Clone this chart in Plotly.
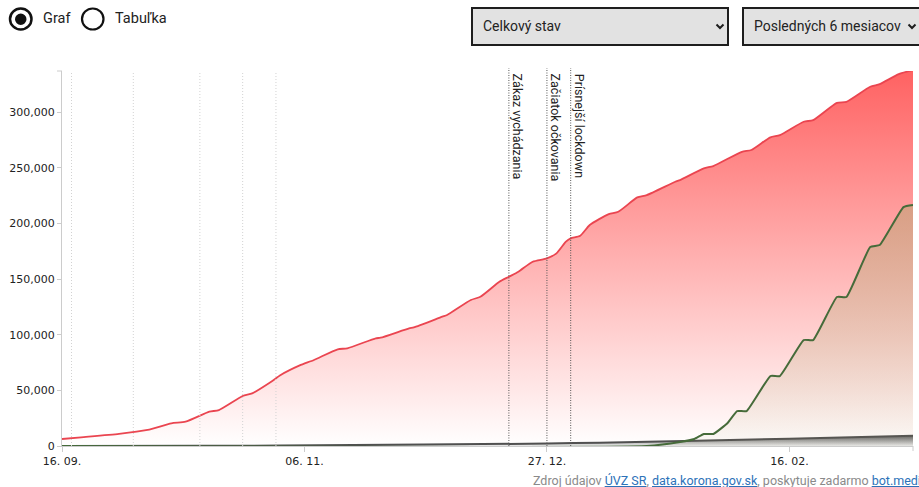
import plotly.graph_objects as go

# ---------------- data ----------------
pos_dates = ["2020-09-16", "2020-09-20", "2020-09-28", "2020-10-04", "2020-10-09", "2020-10-12",
             "2020-10-17", "2020-10-19", "2020-10-24", "2020-10-26", "2020-10-30", "2020-11-01",
             "2020-11-05", "2020-11-08", "2020-11-13", "2020-11-15", "2020-11-21", "2020-11-22",
             "2020-11-28", "2020-11-29", "2020-12-05", "2020-12-06", "2020-12-11", "2020-12-13",
             "2020-12-17", "2020-12-19", "2020-12-21", "2020-12-24", "2020-12-27", "2020-12-29",
             "2020-12-31", "2021-01-01", "2021-01-03", "2021-01-05", "2021-01-09", "2021-01-11",
             "2021-01-15", "2021-01-17", "2021-01-23", "2021-01-24", "2021-01-29", "2021-01-31",
             "2021-02-06", "2021-02-08", "2021-02-12", "2021-02-14", "2021-02-19", "2021-02-21",
             "2021-02-26", "2021-02-28", "2021-03-05", "2021-03-07", "2021-03-11", "2021-03-14"]
pos_values = [6300, 7800, 10800, 14400, 20400, 21800,
              30800, 32300, 44900, 47300, 57800, 63800,
              72400, 77300, 86900, 87800, 96800, 97300,
              105700, 106600, 116200, 117700, 131200, 134100,
              147600, 152100, 156600, 165600, 168600, 173100,
              183600, 186600, 189000, 198600, 208400, 210500,
              223400, 225500, 237500, 239000, 249500, 251600,
              264400, 266000, 277400, 279400, 291400, 292900,
              308400, 309300, 322800, 325200, 334200, 337800]

green_dates = ["2020-09-16", "2021-01-17", "2021-01-24", "2021-01-27", "2021-01-29", "2021-01-31",
               "2021-02-03", "2021-02-05", "2021-02-07", "2021-02-12", "2021-02-14", "2021-02-19",
               "2021-02-21", "2021-02-26", "2021-02-28", "2021-03-05", "2021-03-07", "2021-03-12",
               "2021-03-14"]
green_values = [0, 0, 3600, 6300, 10800, 10800,
                20700, 31400, 31400, 62900, 62900, 95200,
                95200, 133900, 133900, 178800, 180600, 214700,
                216500]

gray_dates = ["2020-09-16", "2020-10-15", "2020-11-01", "2020-12-01", "2020-12-27",
              "2021-01-07", "2021-02-16", "2021-03-14"]
gray_values = [100, 150, 400, 1300, 2200, 3000, 6600, 9300]

tick_dates = ["2020-09-16", "2020-11-06", "2020-12-27", "2021-02-16"]
tick_labels = ["16. 09.", "06. 11.", "27. 12.", "16. 02."]

light_event_dates = ["2020-09-18", "2020-10-01", "2020-10-15", "2020-10-24", "2020-10-31"]
event_dates = ["2020-12-19", "2020-12-27", "2021-01-01"]
event_labels = ["Zákaz vychádzania", "Začiatok očkovania", "Prísnejší lockdown"]

x_range = ["2020-09-16", "2021-03-14"]
y_max = 337000

# ---------------- geometry helpers ----------------
W, H = 919, 487
L, R, T, B = 62, 6, 71, 41
PW, PH = W - L - R, H - T - B


def px(x):
    return (x - L) / PW


def py(y):
    return (H - B - y) / PH


UI_FONT = "Roboto"

fig = go.Figure()

fig.add_trace(go.Scatter(
    x=pos_dates, y=pos_values, mode="lines",
    line=dict(color="#ea4550", width=1.8, shape="spline", smoothing=0.6),
    fill="tozeroy",
    fillgradient=dict(type="vertical", start=0, stop=y_max,
                      colorscale=[[0, "rgb(255,255,255)"], [1, "rgb(255,98,98)"]]),
    hoverinfo="skip"))

fig.add_trace(go.Scatter(
    x=gray_dates, y=gray_values, mode="lines",
    line=dict(color="#505050", width=2, shape="spline", smoothing=0.6),
    fill="tozeroy",
    fillgradient=dict(type="vertical", start=0, stop=max(gray_values),
                      colorscale=[[0, "rgb(235,235,235)"], [1, "rgb(95,95,95)"]]),
    hoverinfo="skip"))

fig.add_trace(go.Scatter(
    x=green_dates, y=green_values, mode="lines",
    line=dict(color="#466b3a", width=2, shape="spline", smoothing=0.4),
    fill="tozeroy",
    fillgradient=dict(type="vertical", start=0, stop=max(green_values),
                      colorscale=[[0, "rgba(175,165,110,0.05)"], [1, "rgba(175,165,110,0.48)"]]),
    hoverinfo="skip"))

shapes = []
annotations = []

# event lines
for d in light_event_dates:
    shapes.append(dict(type="line", xref="x", yref="paper", x0=d, x1=d, y0=0, y1=1,
                       line=dict(color="#d2d2d2", width=1, dash="1px,2px"), layer="above"))
for d, lab in zip(event_dates, event_labels):
    shapes.append(dict(type="line", xref="x", yref="paper", x0=d, x1=d, y0=0, y1=py(68),
                       line=dict(color="#555555", width=1, dash="1px,1.5px"), layer="above"))
    annotations.append(dict(x=d, y=py(72), xref="x", yref="paper", text=lab, textangle=90,
                            showarrow=False, xanchor="left", yanchor="top", xshift=0,
                            font=dict(family=UI_FONT, size=12.5, color="#222")))

# axis outer ticks
shapes.append(dict(type="line", xref="paper", yref="paper", x0=px(57), x1=px(62), y0=1, y1=1,
                   line=dict(color="#cccccc", width=1)))
shapes.append(dict(type="line", xref="paper", yref="paper", x0=1, x1=1, y0=0, y1=py(451),
                   line=dict(color="#cccccc", width=1)))

# radio buttons
shapes.append(dict(type="circle", xref="paper", yref="paper", x0=px(10), x1=px(31.5),
                   y0=py(8.5), y1=py(29.5), line=dict(color="#111", width=2.5), fillcolor="white"))
shapes.append(dict(type="circle", xref="paper", yref="paper", x0=px(15), x1=px(26.5),
                   y0=py(13.5), y1=py(25), line=dict(color="#111", width=0), fillcolor="#111"))
shapes.append(dict(type="circle", xref="paper", yref="paper", x0=px(82), x1=px(103.5),
                   y0=py(8.5), y1=py(29.5), line=dict(color="#111", width=2.2), fillcolor="white"))
annotations.append(dict(x=px(41), y=py(19), xref="paper", yref="paper", text="Graf",
                        showarrow=False, xanchor="left", yanchor="middle",
                        font=dict(family=UI_FONT, size=14.5, color="#222")))
annotations.append(dict(x=px(113), y=py(19), xref="paper", yref="paper", text="Tabuľka",
                        showarrow=False, xanchor="left", yanchor="middle",
                        font=dict(family=UI_FONT, size=14.5, color="#222")))

# dropdown boxes
for x0, x1, label, chev in [(472, 728, "Celkový stav", 720), (743, 925, "Posledných 6 mesiacov", 912)]:
    shapes.append(dict(type="rect", xref="paper", yref="paper", x0=px(x0), x1=px(x1),
                       y0=py(45), y1=py(8), line=dict(color="#1e1e1e", width=2),
                       fillcolor="#e2e2e2"))
    shapes.append(dict(type="path", xref="paper", yref="paper",
                       path="M %f %f L %f %f L %f %f" % (px(chev - 3.5), py(24.5), px(chev), py(28),
                                                         px(chev + 3.5), py(24.5)),
                       line=dict(color="#1e1e1e", width=2)))
    annotations.append(dict(x=px(x0 + 9), y=py(26.5), xref="paper", yref="paper", text=label,
                            showarrow=False, xanchor="left", yanchor="middle",
                            font=dict(family=UI_FONT, size=14, color="#222")))

# source line
link = "color:#2d72b8;text-decoration:underline"
src = ("Zdroj údajov <span style='%s'>ÚVZ SR</span>, <span style='%s'>data.korona.gov.sk</span>, "
       "poskytuje zadarmo <span style='%s'>bot.media</span>" % (link, link, link))
annotations.append(dict(x=px(531), y=py(480), xref="paper", yref="paper", text=src,
                        showarrow=False, xanchor="left", yanchor="middle",
                        font=dict(family=UI_FONT, size=12.5, color="#8a8a8a")))

fig.update_layout(
    width=W, height=H,
    margin=dict(l=L, r=R, t=T, b=B, pad=0),
    plot_bgcolor="white", paper_bgcolor="white",
    showlegend=False,
    font=dict(family="DejaVu Sans", size=11, color="#222"),
    shapes=shapes, annotations=annotations,
    xaxis=dict(type="date", range=x_range, tickvals=tick_dates, ticktext=tick_labels,
               showgrid=False, zeroline=False, showline=True, linecolor="#cccccc",
               ticks="outside", ticklen=5, tickcolor="#cccccc",
               tickfont=dict(family="DejaVu Sans", size=11, color="#222")),
    yaxis=dict(range=[0, y_max], tickvals=[0, 50000, 100000, 150000, 200000, 250000, 300000],
               tickformat=",d", showgrid=False, zeroline=False, showline=True,
               linecolor="#cccccc", ticks="outside", ticklen=4, tickcolor="#cccccc",
               tickfont=dict(family="DejaVu Sans", size=11, color="#222")),
)

fig.write_html("out.html", config={"displayModeBar": False},
               post_script="document.body.style.margin='0';")
